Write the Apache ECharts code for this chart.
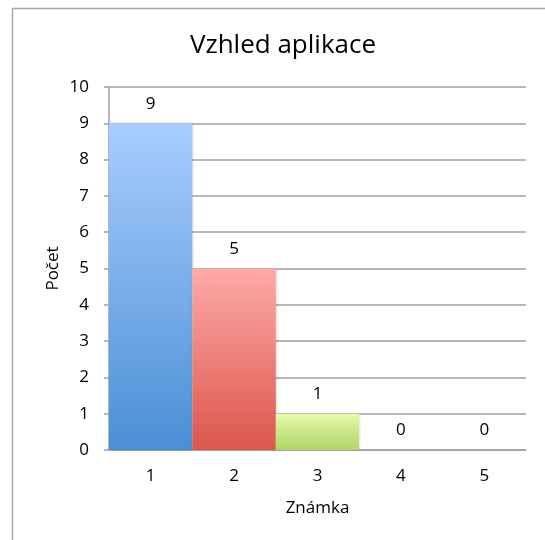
<!DOCTYPE html>
<html>
<head>
<meta charset="utf-8">
<script src="https://cdn.jsdelivr.net/npm/echarts@6/dist/echarts.min.js"></script>
<style>
  html, body { margin: 0; padding: 0; background: #fff; }
  #main { width: 545px; height: 540px; }
</style>
</head>
<body>
<div id="main"></div>
<script>
const categories = ['1', '2', '3', '4', '5'];
const counts = [9, 5, 1, 0, 0];
// top / bottom colours for each bar gradient
const topColors = ['#aacdfe', '#fdaaa8', '#e4fbad', '#cccccc', '#cccccc'];
const bottomColors = ['#4a8fd6', '#dc564c', '#b0d465', '#999999', '#999999'];

const font = 'Open Sans';

const options = {
    animation: false,
    textStyle: { fontFamily: font },
    title: {
        text: 'Vzhled aplikace',
        left: 278,
        top: 28,
        textAlign: 'center',
        textStyle: { fontSize: 26, fontWeight: 'normal', color: '#000', fontFamily: font }
    },
    graphic: [
        { type: 'line', shape: { x1: 12.5, y1: 8, x2: 12.5, y2: 540 }, style: { stroke: '#a6a6a6', lineWidth: 1.5 } },
        { type: 'line', shape: { x1: 12, y1: 8.5, x2: 545, y2: 8.5 }, style: { stroke: '#a6a6a6', lineWidth: 1.5 } }
    ],
    grid: { left: 109, right: 19, top: 87, bottom: 90 },
    xAxis: {
        type: 'category',
        data: categories,
        name: 'Známka',
        nameLocation: 'middle',
        nameGap: 50,
        nameMoveOverlap: false,
        nameTextStyle: { fontSize: 17, color: '#000' },
        axisLine: { lineStyle: { color: '#a0a0a0', width: 1.5 } },
        axisTick: { length: 5, lineStyle: { color: '#a0a0a0', width: 1.5 } },
        axisLabel: { fontSize: 17, color: '#000', margin: 18 }
    },
    yAxis: {
        type: 'value',
        min: 0,
        max: 10,
        interval: 1,
        name: 'Počet',
        nameLocation: 'middle',
        nameGap: 47,
        nameMoveOverlap: false,
        nameTextStyle: { fontSize: 17, color: '#000' },
        axisLine: { show: true, lineStyle: { color: '#a0a0a0', width: 1.5 } },
        axisTick: { show: true, length: 5, lineStyle: { color: '#a0a0a0', width: 1.5 } },
        splitLine: { lineStyle: { color: '#a0a0a0', width: 1.5 } },
        axisLabel: { fontSize: 17, color: '#000', margin: 20 }
    },
    series: [{
        name: 'Počet',
        type: 'bar',
        data: counts.map((v, i) => ({
            value: v,
            itemStyle: {
                color: new echarts.graphic.LinearGradient(0, 0, 0, 1, [
                    { offset: 0, color: topColors[i] },
                    { offset: 1, color: bottomColors[i] }
                ])
            }
        })),
        barCategoryGap: '0%',
        itemStyle: {
            shadowColor: 'rgba(0,0,0,0.15)',
            shadowBlur: 3,
            shadowOffsetX: 1
        },
        label: {
            show: true,
            position: 'top',
            distance: 11,
            fontSize: 17,
            color: '#000'
        }
    }]
};

const myChart = echarts.init(document.getElementById('main'));
myChart.setOption(options);
</script>
</body>
</html>
